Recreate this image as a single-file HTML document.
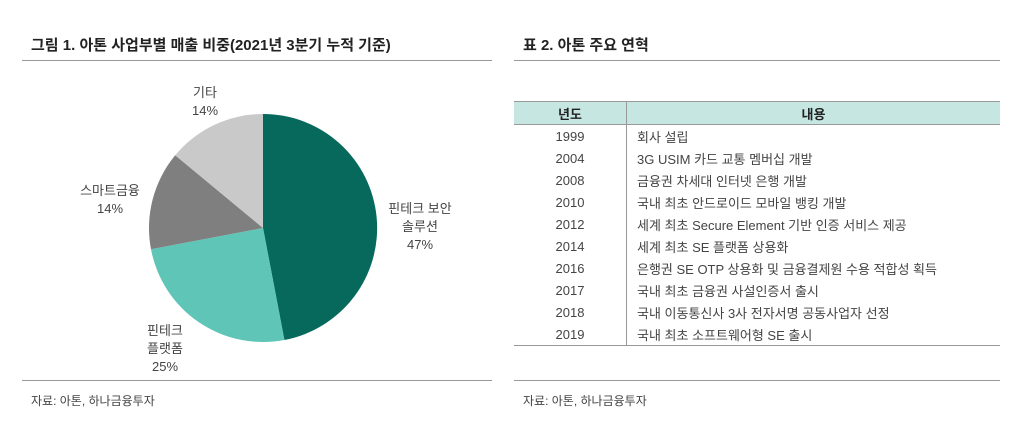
<!DOCTYPE html>
<html><head><meta charset="utf-8"><style>
body{margin:0;width:1024px;height:430px;background:#fff;font-family:"Liberation Sans","Noto Sans CJK KR",sans-serif;color:#333;position:relative;overflow:hidden}
.a{position:absolute}
.t{font-weight:bold;font-size:15px;color:#222}
.l{font-size:13px;text-align:center;line-height:18px;color:#444}
table{border-collapse:collapse;font-size:13px;color:#444}
td{height:22px;padding:0}
</style></head><body>
<div class="a t" style="left:31px;top:34px">그림 1. 아톤 사업부별 매출 비중(2021년 3분기 누적 기준)</div>
<div class="a" style="left:22px;top:60px;width:470px;height:1px;background:#999"></div>
<div class="a t" style="left:523px;top:34px">표 2. 아톤 주요 연혁</div>
<div class="a" style="left:514px;top:60px;width:486px;height:1px;background:#999"></div>
<svg class="a" style="left:0;top:0" width="512" height="430">
<path d="M263,228 L263,114 A114,114 0 0 1 284.4,340 Z" fill="#06695c"/>
<path d="M263,228 L284.4,340 A114,114 0 0 1 151.0,249.3 Z" fill="#5fc6b7"/>
<path d="M263,228 L151.0,249.3 A114,114 0 0 1 175.2,155.3 Z" fill="#7f7f7f"/>
<path d="M263,228 L175.2,155.3 A114,114 0 0 1 263,114 Z" fill="#c9c9c9"/>
</svg>
<div class="a l" style="left:180px;top:84px;width:50px">기타<br>14%</div>
<div class="a l" style="left:70px;top:182px;width:80px">스마트금융<br>14%</div>
<div class="a l" style="left:380px;top:200px;width:80px">핀테크 보안<br>솔루션<br>47%</div>
<div class="a l" style="left:130px;top:322px;width:70px">핀테크<br>플랫폼<br>25%</div>
<div class="a" style="left:22px;top:380px;width:470px;height:1px;background:#999"></div>
<div class="a" style="left:514px;top:380px;width:486px;height:1px;background:#999"></div>
<div class="a" style="left:31px;top:392px;font-size:12px;color:#444">자료: 아톤, 하나금융투자</div>
<div class="a" style="left:523px;top:392px;font-size:12px;color:#444">자료: 아톤, 하나금융투자</div>
<table class="a" style="left:514px;top:101px;width:486px">
<tr style="background:#c5e6e1;font-weight:bold;color:#222"><td style="width:112px;text-align:center;border-right:1px solid #999;border-top:1px solid #999;border-bottom:1px solid #999">년도</td><td style="text-align:center;border-top:1px solid #999;border-bottom:1px solid #999">내용</td></tr>
<tr><td style="text-align:center;border-right:1px solid #999">1999</td><td style="padding-left:10px">회사 설립</td></tr>
<tr><td style="text-align:center;border-right:1px solid #999">2004</td><td style="padding-left:10px">3G USIM 카드 교통 멤버십 개발</td></tr>
<tr><td style="text-align:center;border-right:1px solid #999">2008</td><td style="padding-left:10px">금융권 차세대 인터넷 은행 개발</td></tr>
<tr><td style="text-align:center;border-right:1px solid #999">2010</td><td style="padding-left:10px">국내 최초 안드로이드 모바일 뱅킹 개발</td></tr>
<tr><td style="text-align:center;border-right:1px solid #999">2012</td><td style="padding-left:10px">세계 최초 Secure Element 기반 인증 서비스 제공</td></tr>
<tr><td style="text-align:center;border-right:1px solid #999">2014</td><td style="padding-left:10px">세계 최초 SE 플랫폼 상용화</td></tr>
<tr><td style="text-align:center;border-right:1px solid #999">2016</td><td style="padding-left:10px">은행권 SE OTP 상용화 및 금융결제원 수용 적합성 획득</td></tr>
<tr><td style="text-align:center;border-right:1px solid #999">2017</td><td style="padding-left:10px">국내 최초 금융권 사설인증서 출시</td></tr>
<tr><td style="text-align:center;border-right:1px solid #999">2018</td><td style="padding-left:10px">국내 이동통신사 3사 전자서명 공동사업자 선정</td></tr>
<tr style="border-bottom:1px solid #999"><td style="text-align:center;border-right:1px solid #999">2019</td><td style="padding-left:10px">국내 최초 소프트웨어형 SE 출시</td></tr>
</table>
</body></html>
